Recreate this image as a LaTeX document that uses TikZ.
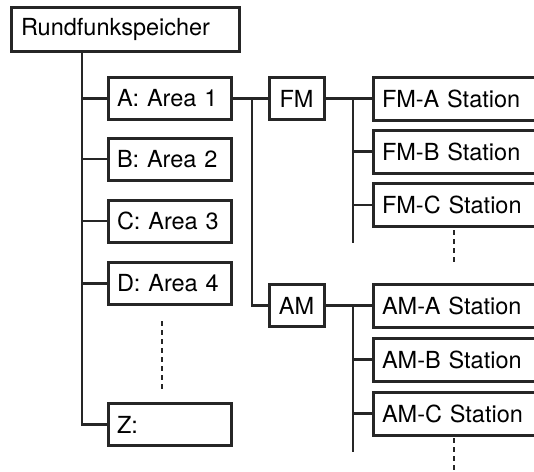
\documentclass[tikz,border=0pt]{standalone}
\usepackage{fontspec}
\setmainfont{TeX Gyre Heros}
\usetikzlibrary{positioning,calc}

\tikzset{
  box/.style={draw=black!85, line width=3pt, minimum height=42pt, inner xsep=9pt, inner ysep=0pt,
    font=\fontsize{23.5}{28}\selectfont, align=left},
  areabox/.style={box, text width=105pt},
  bandbox/.style={box, text width=37pt, align=center},
  stationbox/.style={box, text width=162pt, minimum height=43pt},
  link/.style={draw=black!85, line width=2.3pt},
  gap/.style={draw=black!85, line width=2.3pt, dash pattern=on 5pt off 4pt}
}

\begin{document}
\begin{tikzpicture}[x=1pt, y=-1pt]
  \clip (0,0) rectangle (534,471);
  \fill[white] (0,0) rectangle (534,471);

  % root and areas
  \node[box, text width=208pt, inner xsep=10pt, minimum height=44pt] (root) at (125,29) {Rundfunkspeicher};
  \node[areabox] (areaA) at (169.5,98.5) {A: Area 1};
  \node[areabox] (areaB) at (169.5,159) {B: Area 2};
  \node[areabox] (areaC) at (169.5,221) {C: Area 3};
  \node[areabox] (areaD) at (169.5,283.5) {D: Area 4};
  \node[areabox] (areaZ) at (169.5,424.5) {Z:};

  % bands
  \node[bandbox] (fm) at (296.5,98.5) {FM};
  \node[bandbox] (am) at (296.5,305.5) {AM};

  % stations
  \node[stationbox] (fmA) at (463,98.5) {FM-A Station};
  \node[stationbox] (fmB) at (463,151.5) {FM-B Station};
  \node[stationbox] (fmC) at (463,205) {FM-C Station};
  \node[stationbox] (amA) at (463,305.5) {AM-A Station};
  \node[stationbox] (amB) at (463,359.5) {AM-B Station};
  \node[stationbox] (amC) at (463,413.5) {AM-C Station};

  % trunk lines
  \coordinate (trunk) at (82,51);
  \coordinate (band) at (252,98.5);
  \coordinate (fmEnd) at (353,243);
  \coordinate (amEnd) at (353,452);

  \draw[link] (trunk) |- (areaZ.west);
  \foreach \a in {areaA,areaB,areaC,areaD}
    \draw[link] (trunk |- \a.west) -- (\a.west);

  \draw[link] (areaA.east) -- (fm.west);
  \draw[link] (band) |- (am.west);

  \draw[link] (fm.east) -- (fmA.west);
  \draw[link] (fm.east -| fmEnd) -- (fmEnd);
  \foreach \s in {fmB,fmC}
    \draw[link] (fmEnd |- \s.west) -- (\s.west);

  \draw[link] (am.east) -- (amA.west);
  \draw[link] (am.east -| amEnd) -- (amEnd);
  \foreach \s in {amB,amC}
    \draw[link] (amEnd |- \s.west) -- (\s.west);

  % more entries
  \coordinate (areaMore) at (162,321);
  \coordinate (fmMore) at (454,230);
  \coordinate (amMore) at (454,438);
  \draw[gap] (areaMore) -- ++(0,71);
  \draw[gap] (fmMore) -- ++(0,33);
  \draw[gap] (amMore) -- ++(0,34);
\end{tikzpicture}
\end{document}
